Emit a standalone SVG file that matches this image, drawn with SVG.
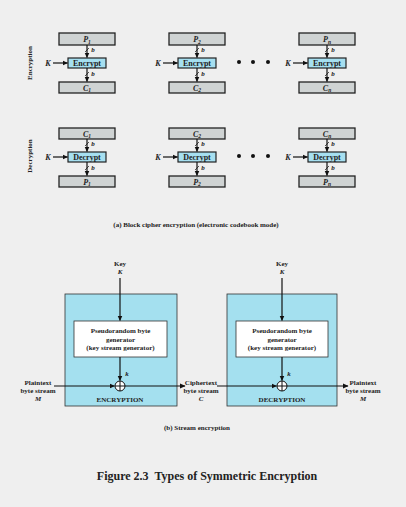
<svg xmlns="http://www.w3.org/2000/svg" width="406" height="507" viewBox="0 0 406 507">
<style>
text{font-family:"Liberation Serif","Times New Roman",serif;font-weight:bold;fill:#222;}
.t{font-size:7px;text-anchor:middle;}
.m{font-size:8px;text-anchor:middle;}
.s{font-size:7px;text-anchor:middle;}
.i{font-style:italic;}
.gray{fill:#cfd3d3;stroke:#222;stroke-width:1.3;}
.blk{fill:#a6dff0;stroke:#222;stroke-width:1.2;}
.big{fill:#a4e0ef;stroke:#333;stroke-width:0.8;}
.wh{fill:#fff;stroke:#333;stroke-width:0.8;}
.ln{stroke:#111;stroke-width:1.2;fill:none;}
.sl{stroke:#111;stroke-width:0.7;}
</style>
<defs>
<marker id="ah" markerWidth="6" markerHeight="6" refX="5" refY="3" orient="auto" markerUnits="userSpaceOnUse">
<path d="M0,0.5 L5.5,3 L0,5.5 z" fill="#111"/>
</marker>
</defs>
<rect x="0" y="0" width="406" height="507" fill="#efefef"/>

<text class="t" transform="translate(32,63) rotate(-90)">Encryption</text>
<text class="t" transform="translate(32,156) rotate(-90)">Decryption</text>

<!-- Encryption row -->
<g id="enc1">
<rect class="gray" x="59" y="33" width="56" height="12"/>
<text class="m i" x="87" y="42">P<tspan font-size="5.5" dy="1.5">1</tspan></text>
<rect class="blk" x="68" y="58" width="38" height="10"/>
<text class="m" x="87" y="66">Encrypt</text>
<rect class="gray" x="59" y="82" width="56" height="11"/>
<text class="m i" x="87" y="90.5">C<tspan font-size="5.5" dy="1.5">1</tspan></text>
<text class="m i" x="48" y="66">K</text>
</g>
<g id="enc2">
<rect class="gray" x="169" y="33" width="56" height="12"/>
<text class="m i" x="197" y="42">P<tspan font-size="5.5" dy="1.5">2</tspan></text>
<rect class="blk" x="178" y="58" width="38" height="10"/>
<text class="m" x="197" y="66">Encrypt</text>
<rect class="gray" x="169" y="82" width="56" height="11"/>
<text class="m i" x="197" y="90.5">C<tspan font-size="5.5" dy="1.5">2</tspan></text>
<text class="m i" x="158" y="66">K</text>
</g>
<g id="enc3">
<rect class="gray" x="299" y="33" width="56" height="12"/>
<text class="m i" x="327" y="42">P<tspan font-size="5.5" dy="1.5">n</tspan></text>
<rect class="blk" x="308" y="58" width="38" height="10"/>
<text class="m" x="327" y="66">Encrypt</text>
<rect class="gray" x="299" y="82" width="56" height="11"/>
<text class="m i" x="327" y="90.5">C<tspan font-size="5.5" dy="1.5">n</tspan></text>
<text class="m i" x="288" y="66">K</text>
</g>

<!-- Decryption row -->
<g id="dec1">
<rect class="gray" x="59" y="128" width="56" height="11"/>
<text class="m i" x="87" y="136.5">C<tspan font-size="5.5" dy="1.5">1</tspan></text>
<rect class="blk" x="68" y="152" width="38" height="10"/>
<text class="m" x="87" y="160">Decrypt</text>
<rect class="gray" x="59" y="176" width="56" height="11"/>
<text class="m i" x="87" y="184.5">P<tspan font-size="5.5" dy="1.5">1</tspan></text>
<text class="m i" x="48" y="160">K</text>
</g>
<g id="dec2">
<rect class="gray" x="169" y="128" width="56" height="11"/>
<text class="m i" x="197" y="136.5">C<tspan font-size="5.5" dy="1.5">2</tspan></text>
<rect class="blk" x="178" y="152" width="38" height="10"/>
<text class="m" x="197" y="160">Decrypt</text>
<rect class="gray" x="169" y="176" width="56" height="11"/>
<text class="m i" x="197" y="184.5">P<tspan font-size="5.5" dy="1.5">2</tspan></text>
<text class="m i" x="158" y="160">K</text>
</g>
<g id="dec3">
<rect class="gray" x="299" y="128" width="56" height="11"/>
<text class="m i" x="327" y="136.5">C<tspan font-size="5.5" dy="1.5">n</tspan></text>
<rect class="blk" x="308" y="152" width="38" height="10"/>
<text class="m" x="327" y="160">Decrypt</text>
<rect class="gray" x="299" y="176" width="56" height="11"/>
<text class="m i" x="327" y="184.5">P<tspan font-size="5.5" dy="1.5">n</tspan></text>
<text class="m i" x="288" y="160">K</text>
</g>

<g id="dots" fill="#111">
<circle cx="239" cy="62" r="2"/><circle cx="253" cy="62" r="2"/><circle cx="268" cy="62" r="2"/>
<circle cx="239" cy="156" r="2"/><circle cx="253" cy="156" r="2"/><circle cx="268" cy="156" r="2"/>
</g>

<g id="block-connectors">
<path class="ln" d="M87,45 V57.5" marker-end="url(#ah)"/><path class="ln" d="M87,68 V81.5" marker-end="url(#ah)"/>
<path class="ln" d="M197,45 V57.5" marker-end="url(#ah)"/><path class="ln" d="M197,68 V81.5" marker-end="url(#ah)"/>
<path class="ln" d="M327,45 V57.5" marker-end="url(#ah)"/><path class="ln" d="M327,68 V81.5" marker-end="url(#ah)"/>
<path class="ln" d="M53,63 H67.5" marker-end="url(#ah)"/><path class="ln" d="M163,63 H177.5" marker-end="url(#ah)"/><path class="ln" d="M293,63 H307.5" marker-end="url(#ah)"/>
<path class="ln" d="M87,139 V151.5" marker-end="url(#ah)"/><path class="ln" d="M87,162 V175.5" marker-end="url(#ah)"/>
<path class="ln" d="M197,139 V151.5" marker-end="url(#ah)"/><path class="ln" d="M197,162 V175.5" marker-end="url(#ah)"/>
<path class="ln" d="M327,139 V151.5" marker-end="url(#ah)"/><path class="ln" d="M327,162 V175.5" marker-end="url(#ah)"/>
<path class="ln" d="M53,157 H67.5" marker-end="url(#ah)"/><path class="ln" d="M163,157 H177.5" marker-end="url(#ah)"/><path class="ln" d="M293,157 H307.5" marker-end="url(#ah)"/>
<g class="sl">
<path d="M85,52 L89,48"/><path d="M85,76 L89,72"/>
<path d="M195,52 L199,48"/><path d="M195,76 L199,72"/>
<path d="M325,52 L329,48"/><path d="M325,76 L329,72"/>
<path d="M85,146 L89,142"/><path d="M85,170 L89,166"/>
<path d="M195,146 L199,142"/><path d="M195,170 L199,166"/>
<path d="M325,146 L329,142"/><path d="M325,170 L329,166"/>
</g>
</g>
<g id="b-labels">
<text class="t i" x="93" y="52">b</text><text class="t i" x="93" y="76">b</text>
<text class="t i" x="203" y="52">b</text><text class="t i" x="203" y="76">b</text>
<text class="t i" x="333" y="52">b</text><text class="t i" x="333" y="76">b</text>
<text class="t i" x="93" y="146">b</text><text class="t i" x="93" y="170">b</text>
<text class="t i" x="203" y="146">b</text><text class="t i" x="203" y="170">b</text>
<text class="t i" x="333" y="146">b</text><text class="t i" x="333" y="170">b</text>
</g>

<text class="t" x="196" y="227" font-size="6.5">(a) Block cipher encryption (electronic codebook mode)</text>

<g id="encryptor">
<rect class="big" x="65" y="294" width="112" height="112"/>
<rect class="wh" x="74" y="321" width="93" height="36"/>
<text class="s" x="120.5" y="333">Pseudorandom byte</text>
<text class="s" x="120.5" y="341.5">generator</text>
<text class="s" x="120.5" y="350">(key stream generator)</text>
<circle cx="120" cy="386" r="5" fill="#fff" stroke="#111" stroke-width="1"/>
<path d="M115,386 H125 M120,381 V391" stroke="#111" stroke-width="1"/>
<text class="s" x="120" y="401.5">ENCRYPTION</text>
<text class="s i" x="127" y="376">k</text>
</g>
<g id="decryptor">
<rect class="big" x="227" y="294" width="110" height="112"/>
<rect class="wh" x="236" y="321" width="92" height="36"/>
<text class="s" x="282" y="333">Pseudorandom byte</text>
<text class="s" x="282" y="341.5">generator</text>
<text class="s" x="282" y="350">(key stream generator)</text>
<circle cx="282" cy="386" r="5" fill="#fff" stroke="#111" stroke-width="1"/>
<path d="M277,386 H287 M282,381 V391" stroke="#111" stroke-width="1"/>
<text class="s" x="282" y="401.5">DECRYPTION</text>
<text class="s i" x="289" y="376">k</text>
</g>
<g id="labels-stream">
<text class="s" x="120" y="266">Key</text>
<text class="s i" x="120" y="274">K</text>
<text class="s" x="282" y="266">Key</text>
<text class="s i" x="282" y="274">K</text>
<text class="s" x="38" y="385">Plaintext</text>
<text class="s" x="38" y="393">byte stream</text>
<text class="s i" x="38" y="401">M</text>
<text class="s" x="201" y="385">Ciphertext</text>
<text class="s" x="201" y="393">byte stream</text>
<text class="s i" x="201" y="401">C</text>
<text class="s" x="363" y="385">Plaintext</text>
<text class="s" x="363" y="393">byte stream</text>
<text class="s i" x="363" y="401">M</text>
</g>
<g id="stream-connectors">
<path class="ln" d="M120,278 V320.5" marker-end="url(#ah)"/>
<path class="ln" d="M120,357 V380.5" marker-end="url(#ah)"/>
<path class="ln" d="M54,386 H114.5" marker-end="url(#ah)"/>
<path class="ln" d="M125,386 H185" marker-end="url(#ah)"/>
<path class="ln" d="M282,278 V320.5" marker-end="url(#ah)"/>
<path class="ln" d="M282,357 V380.5" marker-end="url(#ah)"/>
<path class="ln" d="M217,386 H276.5" marker-end="url(#ah)"/>
<path class="ln" d="M287,386 H348" marker-end="url(#ah)"/>
</g>

<text class="t" x="197" y="430" font-size="6.5">(b) Stream encryption</text>
<text x="207" y="480" font-size="12" text-anchor="middle">Figure 2.3&#160; Types of Symmetric Encryption</text>
</svg>
